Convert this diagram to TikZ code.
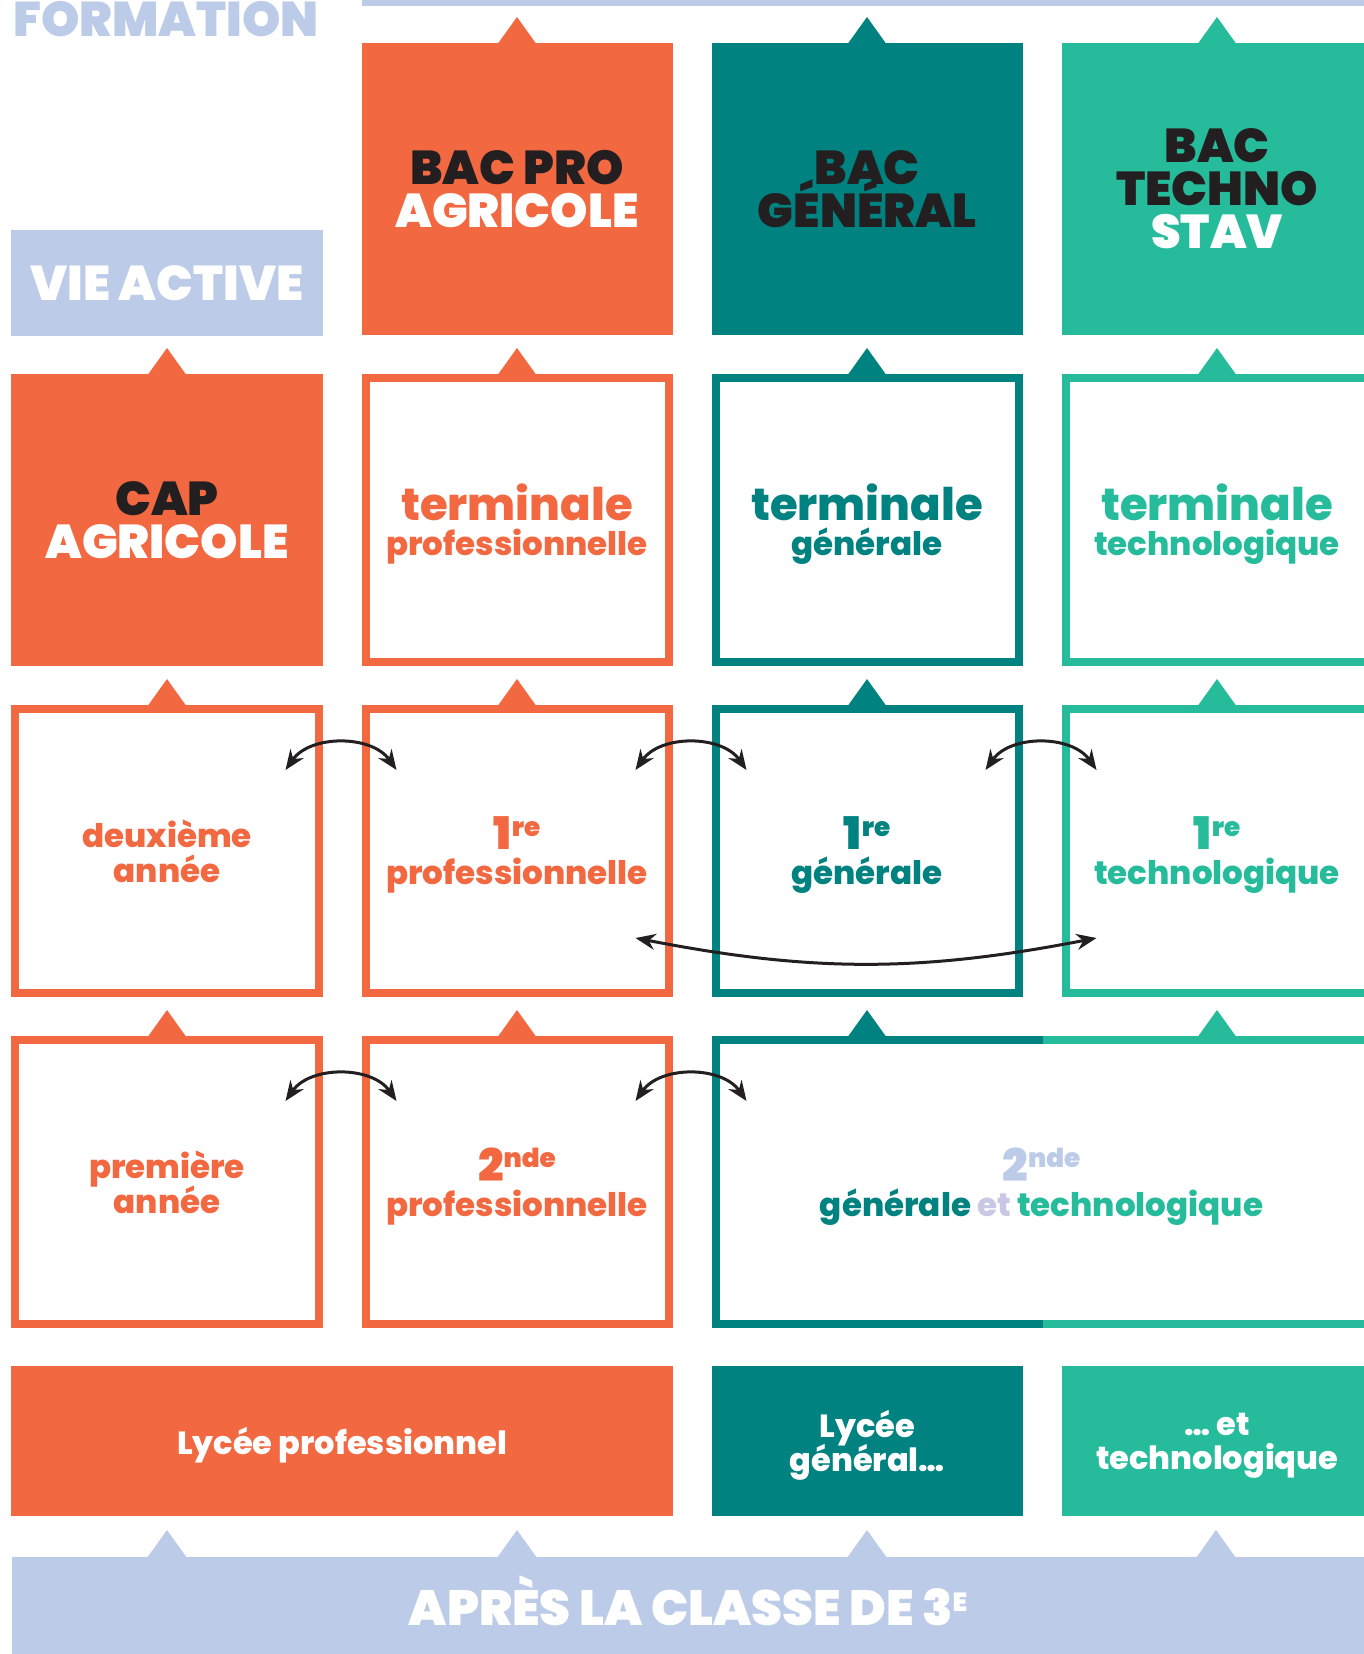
\documentclass[tikz,border=0pt]{standalone}
\usepackage{fontspec}
\setmainfont{Poppins}[UprightFont={* ExtraBold}]
\newfontfamily\heavyfont{Poppins}[UprightFont={* Black}]
\usepackage{tikz}
\usetikzlibrary{arrows.meta,calc,chains,positioning}

\definecolor{orangeagri}{RGB}{242,104,65}
\definecolor{tealg}{RGB}{0,130,128}
\definecolor{greent}{RGB}{37,187,155}
\definecolor{paleblue}{RGB}{187,203,232}
\definecolor{etcol}{RGB}{200,200,230}
\definecolor{ink}{RGB}{35,31,32}

\setlength{\lineskiplimit}{-100pt}
\setlength{\lineskip}{0pt}

\newcommand\fs[2]{\fontsize{#1}{#2}\selectfont}
\newcommand\ord[2]{{\heavyfont\fs{18}{14}#1\raisebox{5.5pt}{\fs{10.5}{14}#2}}}

\begin{document}
\begin{tikzpicture}[x=0.4pt, y=-0.4pt,
    node distance=15.6pt,
    fillbox/.style={
      rectangle,
      fill=#1,
      minimum width=124.4pt,
      minimum height=116.8pt,
      inner sep=0pt, outer sep=0pt,
      text depth=-2.5pt,
      align=center
    },
    bacbox/.style={fillbox=#1, text depth=0pt, font=\heavyfont\fs{19}{17.2},
      execute at begin node={\rule{0pt}{19pt}}},
    framebox/.style={
      rectangle,
      draw=#1, text=#1, fill=white,
      line width=3.2pt,
      minimum width=121.2pt,
      minimum height=113.6pt,
      inner sep=0pt, outer sep=1.6pt,
      text depth=-2.5pt,
      align=center,
      font=\fs{13}{14}
    },
    lyceebox/.style={fillbox=#1, minimum height=60pt, text=white, font=\fs{12.8}{13.6}},
    link/.style={
      {Stealth[length=8pt,width=6.4pt]}-{Stealth[length=8pt,width=6.4pt]},
      line width=1.2pt, draw=ink
    },
    tri/.pic={\path[pic actions] (-21.5,4) -- (0,-26) -- (21.5,4) -- cycle;},
    start chain=row1 going right,
    start chain=row2 going right,
    start chain=row3 going right,
    start chain=row4 going right,
    start chain=row5 going right
  ]
  \useasboundingbox (0,0) rectangle (1364,1654);
  \clip (0,0) rectangle (1364,1654);

  % header
  \fill[paleblue] (362,0) rectangle (1372,5.5);
  \node[anchor=base west, inner sep=0pt, text=paleblue, font=\heavyfont\fs{19.5}{20}] (formation) at (13,36) {FORMATION};
  \node[fillbox=paleblue, minimum height=42.4pt, text=white, font=\heavyfont\fs{19.5}{18}, text depth=0pt] (vie) at (167,283) {VIE ACTIVE};

  % baccalaureats
  \node[bacbox=orangeagri,on chain=row1] (b1) at (517,189) {{\color{ink}BAC PRO}\\{\color{white}AGRICOLE}};
  \node[bacbox=tealg,on chain=row1] (c1) {{\color{ink}BAC}\\{\color{ink}GÉNÉRAL}};
  \node[bacbox=greent,on chain=row1] (d1) {{\color{ink}BAC}\\{\color{ink}TECHNO}\\{\color{white}STAV}};

  % terminales
  \node[bacbox=orangeagri,on chain=row2] (a2) at (167,520) {{\color{ink}CAP}\\{\color{white}AGRICOLE}};
  \node[framebox=orangeagri,on chain=row2] (b2) {{\fs{18}{13.2}terminale}\\professionnelle};
  \node[framebox=tealg,on chain=row2] (c2) {{\fs{18}{13.2}terminale}\\générale};
  \node[framebox=greent,on chain=row2] (d2) {{\fs{18}{13.2}terminale}\\technologique};

  % premieres
  \node[framebox=orangeagri,on chain=row3] (a3) at (167,851) {deuxième\\année};
  \node[framebox=orangeagri,on chain=row3] (b3) {\ord{1}{re}\\professionnelle};
  \node[framebox=tealg,on chain=row3] (c3) {\ord{1}{re}\\générale};
  \node[framebox=greent,on chain=row3] (d3) {\ord{1}{re}\\technologique};

  % secondes
  \node[framebox=orangeagri,on chain=row4] (a4) at (167,1182) {première\\année};
  \node[framebox=orangeagri,on chain=row4] (b4) {\ord{2}{nde}\\professionnelle};
  \node[fillbox=white,minimum width=264pt,on chain=row4,font=\fs{13}{14}] (s4)
    {{\color{paleblue}\ord{2}{nde}}\\{\color{tealg}générale} {\color{etcol}et} {\color{greent}technologique}};
  \draw[tealg, line width=3.2pt] ($(s4.north)+(1,4)$) -- ($(s4.north west)+(4,4)$)
    -- ($(s4.south west)+(4,-4)$) -- ($(s4.south)+(1,-4)$);
  \draw[greent, line width=3.2pt] ($(s4.north)+(1,4)$) -- ($(s4.north east)+(-4,4)$)
    -- ($(s4.south east)+(-4,-4)$) -- ($(s4.south)+(1,-4)$);

  % lycees
  \node[lyceebox=orangeagri,minimum width=264.6pt,on chain=row5] (lp) at (342,1441) {Lycée professionnel};
  \node[lyceebox=tealg,on chain=row5] (lg) {Lycée\\général…};
  \node[lyceebox=greent,on chain=row5] (lt) {… et\\technologique};

  % apres la 3e
  \node[fill=paleblue, minimum width=544pt, minimum height=42pt, inner sep=0pt, anchor=north west] (bar) at (11.6,1556) {};
  \node[anchor=base, inner sep=0pt, text=white, font=\heavyfont\fs{19.8}{18}] (apres) at (688,1625)
    {APRÈS LA CLASSE DE 3\raisebox{5.6pt}{\fs{10.5}{10}E}};

  % triangles
  \foreach \n/\c in {b1/orangeagri,c1/tealg,d1/greent,
                     a2/orangeagri,b2/orangeagri,c2/tealg,d2/greent,
                     a3/orangeagri,b3/orangeagri,c3/tealg,d3/greent,
                     a4/orangeagri,b4/orangeagri}
    \pic[fill=\c] at (\n.north) {tri};
  \pic[fill=tealg] at (c3.south |- s4.north) {tri};
  \pic[fill=greent] at (d3.south |- s4.north) {tri};
  \foreach \x in {167,517,867,1216}
    \pic[fill=paleblue] at (\x,1556) {tri};

  % passerelles
  \coordinate (a3r) at ($(a3.north east)+(-37,65)$);
  \coordinate (b3l) at ($(b3.north west)+(35,65)$);
  \coordinate (b3r) at ($(b3.north east)+(-37,65)$);
  \coordinate (c3l) at ($(c3.north west)+(35,65)$);
  \coordinate (c3r) at ($(c3.north east)+(-37,65)$);
  \coordinate (d3l) at ($(d3.north west)+(35,65)$);
  \coordinate (b3s) at ($(b3.south east)+(-37,-59)$);
  \coordinate (d3s) at ($(d3.south west)+(35,-59)$);
  \coordinate (a4r) at ($(a4.north east)+(-37,65)$);
  \coordinate (b4l) at ($(b4.north west)+(35,65)$);
  \coordinate (b4r) at ($(b4.north east)+(-37,65)$);
  \coordinate (s4l) at ($(s4.north west)+(35,65)$);

  \draw[link] (a3r) to[bend left=55] (b3l);
  \draw[link] (b3r) to[bend left=55] (c3l);
  \draw[link] (c3r) to[bend left=55] (d3l);
  \draw[link] (b3s) to[bend right=11] (d3s);
  \draw[link] (a4r) to[bend left=55] (b4l);
  \draw[link] (b4r) to[bend left=55] (s4l);
\end{tikzpicture}
\end{document}
